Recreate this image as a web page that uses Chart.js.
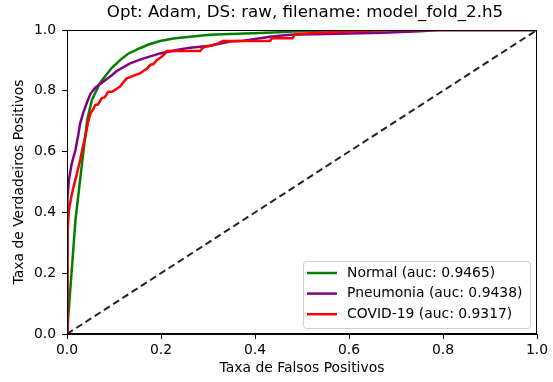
<!DOCTYPE html>
<html>
<head>
<meta charset="utf-8">
<script src="https://cdn.jsdelivr.net/npm/chart.js@4/dist/chart.umd.min.js"></script>
<style>
  html, body { margin: 0; padding: 0; background: #fff; }
  #wrap { width: 553px; height: 382px; }
</style>
</head>
<body>
<div id="wrap"><canvas id="roc"></canvas></div>
<script>
// ROC points
const normalFpr = [0, 0.018, 0.032, 0.043, 0.053, 0.07, 0.077, 0.095, 0.113, 0.13, 0.155, 0.175, 0.198, 0.23, 0.262, 0.304, 0.347, 0.41, 0.45, 0.5, 0.6, 1.0];
const normalTpr = [0, 0.375, 0.562, 0.704, 0.77, 0.825, 0.84, 0.875, 0.901, 0.922, 0.94, 0.953, 0.964, 0.973, 0.978, 0.984, 0.987, 0.99, 0.993, 0.997, 1.0, 1.0];

const pneuFpr = [0, 0, 0.002, 0.004, 0.01, 0.018, 0.024, 0.028, 0.035, 0.043, 0.05, 0.06, 0.077, 0.096, 0.106, 0.134, 0.16, 0.198, 0.233, 0.262, 0.304, 0.347, 0.375, 0.432, 0.474, 0.55, 0.672, 0.75, 0.79, 1.0];
const pneuTpr = [0, 0.38, 0.45, 0.507, 0.56, 0.605, 0.655, 0.693, 0.73, 0.764, 0.79, 0.81, 0.83, 0.852, 0.865, 0.89, 0.905, 0.923, 0.934, 0.942, 0.948, 0.962, 0.965, 0.978, 0.984, 0.987, 0.991, 0.996, 1.0, 1.0];

const covidFpr = [0, 0, 0.002, 0.004, 0.009, 0.014, 0.02, 0.028, 0.033, 0.039, 0.045, 0.05, 0.056, 0.06, 0.066, 0.074, 0.08, 0.088, 0.096, 0.105, 0.113, 0.12, 0.127, 0.134, 0.142, 0.155, 0.163, 0.17, 0.177, 0.184, 0.191, 0.2, 0.209, 0.212, 0.283, 0.288, 0.294, 0.31, 0.321, 0.332, 0.432, 0.436, 0.48, 0.485, 0.56, 0.6, 0.69, 1.0];
const covidTpr = [0, 0.2, 0.33, 0.408, 0.45, 0.485, 0.52, 0.572, 0.61, 0.649, 0.698, 0.726, 0.74, 0.753, 0.755, 0.776, 0.778, 0.797, 0.797, 0.806, 0.814, 0.828, 0.841, 0.845, 0.85, 0.857, 0.866, 0.872, 0.885, 0.888, 0.901, 0.91, 0.923, 0.931, 0.931, 0.94, 0.945, 0.95, 0.956, 0.964, 0.964, 0.973, 0.973, 0.987, 0.993, 0.995, 1.0, 1.0];

const chanceLine = [0, 1];
const tickValues = [0, 0.2, 0.4, 0.6, 0.8, 1.0];

const FONT = "'DejaVu Sans', sans-serif";
const toXY = (xs, ys) => xs.map((x, i) => ({ x, y: ys[i] }));

// box round the axes, title and legend like matplotlib
const framePlugin = {
  id: 'frame',
  afterDatasetsDraw(chart) {
    const { ctx, chartArea: a } = chart;
    ctx.save();
    ctx.strokeStyle = '#000';
    ctx.lineWidth = 1;
    ctx.strokeRect(a.left + 0.5, a.top + 0.5, a.right - a.left - 1, a.bottom - a.top - 1);

    ctx.fillStyle = '#000';
    ctx.font = `16.7px ${FONT}`;
    ctx.textAlign = 'center';
    ctx.textBaseline = 'middle';
    ctx.fillText('Opt: Adam, DS: raw, filename: model_fold_2.h5', (a.left + a.right) / 2 + 3, 13);

    // legend
    const bx = 303, by = 261, bw = 227, bh = 67;
    ctx.fillStyle = 'rgba(255,255,255,0.85)';
    ctx.strokeStyle = '#d0d0d0';
    ctx.beginPath();
    ctx.roundRect(bx + 0.5, by + 0.5, bw, bh, 3);
    ctx.fill();
    ctx.stroke();
    const items = chart.data.datasets.filter(d => d.inLegend);
    ctx.font = `13.9px ${FONT}`;
    ctx.textAlign = 'left';
    items.forEach((d, i) => {
      const y = 273 + i * 20.6;
      ctx.strokeStyle = d.borderColor;
      ctx.lineWidth = 2.5;
      ctx.beginPath();
      ctx.moveTo(307, y);
      ctx.lineTo(337, y);
      ctx.stroke();
      ctx.fillStyle = '#000';
      ctx.fillText(d.label, 347, y);
    });
    ctx.restore();
  }
};

const ctx = document.getElementById('roc').getContext('2d');
new Chart(ctx, {
  type: 'line',
  data: {
    datasets: [
      {
        label: 'Normal (auc: 0.9465)',
        data: toXY(normalFpr, normalTpr),
        borderColor: '#008000',
        borderWidth: 2.5,
        inLegend: true,
        order: 3
      },
      {
        label: 'Pneumonia (auc: 0.9438)',
        data: toXY(pneuFpr, pneuTpr),
        borderColor: '#800080',
        borderWidth: 2.5,
        inLegend: true,
        order: 2
      },
      {
        label: 'COVID-19 (auc: 0.9317)',
        data: toXY(covidFpr, covidTpr),
        borderColor: '#ff0000',
        borderWidth: 2.5,
        inLegend: true,
        order: 1
      },
      {
        label: 'chance',
        data: toXY(chanceLine, chanceLine),
        borderColor: '#222',
        borderWidth: 2,
        borderDash: [7, 4],
        order: 0
      }
    ]
  },
  options: {
    responsive: true,
    maintainAspectRatio: false,
    animation: false,
    events: [],
    elements: { point: { radius: 0 }, line: { tension: 0, fill: false } },
    layout: { padding: { left: 0, right: 16, top: 30, bottom: 0 } },
    plugins: { legend: { display: false }, tooltip: { enabled: false } },
    scales: {
      x: {
        type: 'linear',
        min: 0,
        max: 1,
        afterBuildTicks: s => { s.ticks = tickValues.map(v => ({ value: v })); },
        afterFit: s => { s.height = 48; },
        ticks: { color: '#000', font: { family: FONT, size: 13.9 }, padding: 3, maxRotation: 0, callback: v => v.toFixed(1) },
        grid: { drawOnChartArea: false, tickLength: 5, color: '#000' },
        border: { color: '#000' },
        title: { display: true, text: 'Taxa de Falsos Positivos', color: '#000', font: { family: FONT, size: 13.9 }, padding: { top: 0, bottom: 5 } }
      },
      y: {
        type: 'linear',
        min: 0,
        max: 1,
        afterBuildTicks: s => { s.ticks = tickValues.map(v => ({ value: v })); },
        afterFit: s => { s.width = 67; },
        ticks: { color: '#000', font: { family: FONT, size: 13.9 }, padding: 6, callback: v => v.toFixed(1) },
        grid: { drawOnChartArea: false, tickLength: 5, color: '#000' },
        border: { color: '#000' },
        title: { display: true, text: 'Taxa de Verdadeiros Positivos', color: '#000', font: { family: FONT, size: 13.9 }, padding: { top: 11, bottom: 0 } }
      }
    }
  },
  plugins: [framePlugin]
});
</script>
</body>
</html>
